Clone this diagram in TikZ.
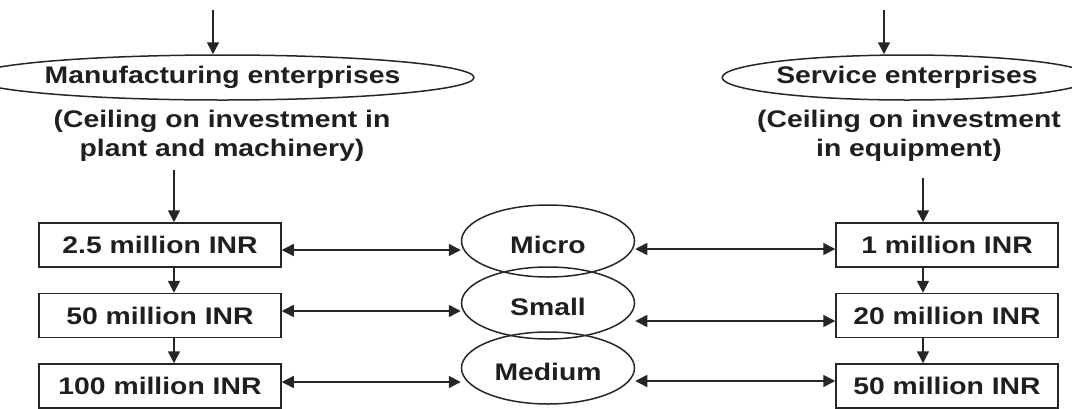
\documentclass[tikz,border=0pt]{standalone}
\usepackage{fontspec}
\setmainfont{Liberation Sans}[FakeStretch=1.18]
\usetikzlibrary{shapes.geometric,arrows.meta,positioning}

\def \tipL {12pt}
\def \tipW {12pt}

\tikzset{
  txt/.style={font=\bfseries\fontsize{24}{29}\selectfont, text=black!88},
  head/.style={txt, draw, ellipse, inner sep=0pt, minimum height=45},
  limit/.style={txt, draw, rectangle, inner sep=0pt, minimum height=44},
  size/.style={txt, draw, ellipse, inner sep=0pt, minimum width=173, minimum height=72,
    text height=25pt, text depth=0pt},
  arr/.style={-{Triangle[length=\tipL,width=\tipW]}},
  dbl/.style={{Triangle[length=\tipL,width=\tipW]}-{Triangle[length=\tipL,width=\tipW]}},
}

\begin{document}
\begin{tikzpicture}[x=1pt, y=-1pt, line width=1.5pt, draw=black!85]
   \useasboundingbox (0, 0) rectangle (1072, 408);

   % manufacturing side
   \node[head, minimum width=425] (manu) at (222.5, 77.5) {Manufacturing enterprises};
   \node[txt, align=center, inner sep=0pt] (manuNote) at (222, 136) {(Ceiling on investment in\\plant and machinery)};
   \node[limit, minimum width=242] (m1) at (160, 245) {2.5 million INR};
   \node[limit, minimum width=242] (m2) at (160, 315.5) {50 million INR};
   \node[limit, minimum width=242] (m3) at (160, 386) {100 million INR};

   % service side
   \node[head, minimum width=332] (serv) at (907, 77.5) {Service enterprises};
   \node[txt, align=center, inner sep=0pt] (servNote) at (909, 136) {(Ceiling on investment\\in equipment)};
   \node[limit, minimum width=222] (s1) at (947, 245) {1 million INR};
   \node[limit, minimum width=222] (s2) at (947, 315.5) {20 million INR};
   \node[limit, minimum width=222] (s3) at (947, 386) {50 million INR};

   % enterprise sizes
   \node[size] (micro) at (548, 241) {Micro};
   \node[size] (small) at (548, 303) {Small};
   \node[size] (medium) at (548, 368) {Medium};

   \coordinate (mTop) at (213, 10);
   \coordinate (sTop) at (884, 10);
   \coordinate (mDown) at (174, 170);
   \coordinate (sDown) at (923, 178);

   \draw[arr] (mTop) -- (mTop |- manu.north);
   \draw[arr] (sTop) -- (sTop |- serv.north);
   \draw[arr] (mDown) -- (mDown |- m1.north);
   \draw[arr] (sDown) -- (sDown |- s1.north);

   \draw[arr] (m1.south -| mDown) -- (m2.north -| mDown);
   \draw[arr] (m2.south -| mDown) -- (m3.north -| mDown);
   \draw[arr] (s1.south -| sDown) -- (s2.north -| sDown);
   \draw[arr] (s2.south -| sDown) -- (s3.north -| sDown);

   \draw[dbl] ([yshift=-5]m1.east) -- ([yshift=-5]m1.east -| micro.west);
   \draw[dbl] ([yshift=4.5]m2.east) -- ([yshift=4.5]m2.east -| small.west);
   \draw[dbl] ([yshift=4]m3.east) -- ([yshift=4]m3.east -| medium.west);
   \draw[dbl] ([yshift=-4]s1.west -| micro.east) -- ([yshift=-4]s1.west);
   \draw[dbl] ([yshift=-5.5]s2.west -| small.east) -- ([yshift=-5.5]s2.west);
   \draw[dbl] ([yshift=5]s3.west -| medium.east) -- ([yshift=5]s3.west);
\end{tikzpicture}
\end{document}
